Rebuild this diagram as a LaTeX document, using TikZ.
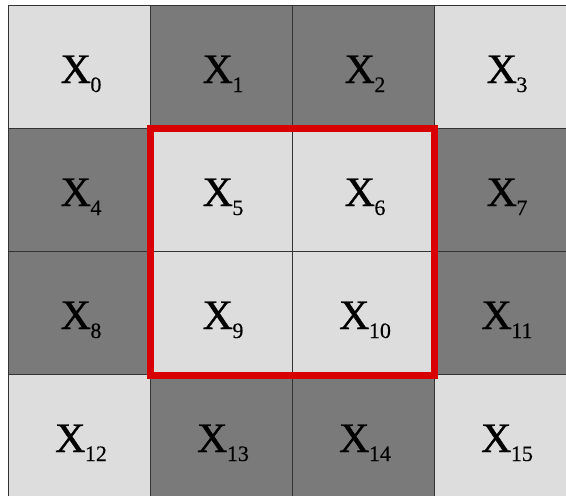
\documentclass[tikz,border=0pt]{standalone}
\usepackage{fontspec}
\setmainfont{Liberation Serif}
\newfontface\xfont{Liberation Serif}[FakeBold=1]
\newfontface\sfont{Liberation Serif}[FakeBold=0.3]
\definecolor{lightc}{HTML}{DDDDDD}
\definecolor{darkc}{HTML}{7A7A7A}
\definecolor{redc}{HTML}{D80000}
\newcommand{\cellx}[1]{{\xfont X}\kern-0.5pt\raisebox{-9pt}{\sfont\fontsize{22}{22}\selectfont #1}}
\begin{document}
\begin{tikzpicture}[x=1pt,y=-1pt,
  lcell/.style={fill=lightc,draw=black!80,line width=1pt},
  dcell/.style={fill=darkc,draw=black!80,line width=1pt},
  lab/.style={font=\fontsize{42}{42}\selectfont,inner sep=0pt,anchor=base}]
\useasboundingbox (0,0) rectangle (566,496);
\foreach \r/\c/\s/\n in {0/0/l/0,0/1/d/1,0/2/d/2,0/3/l/3,
  1/0/d/4,1/1/l/5,1/2/l/6,1/3/d/7,
  2/0/d/8,2/1/l/9,2/2/l/10,2/3/d/11,
  3/0/l/12,3/1/d/13,3/2/d/14,3/3/l/15}{
  \pgfmathsetmacro{\xa}{8+142*\c}
  \pgfmathsetmacro{\ya}{5+123*\r}
  \draw[\s cell] (\xa,\ya) rectangle ++(142,123);
  \node[lab] (n\n) at (\xa+73,\ya+78) {\cellx{\n}};
}
\coordinate (ra) at (150,128);
\coordinate (rb) at (434,375);
\draw[redc,line width=7pt] (ra) rectangle (rb);
\end{tikzpicture}
\end{document}
